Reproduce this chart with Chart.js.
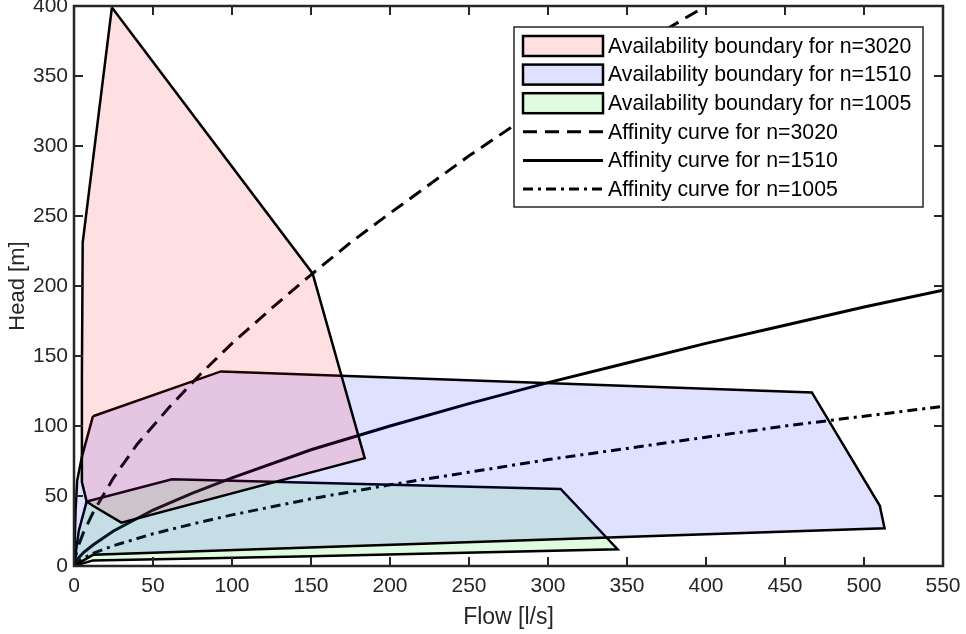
<!DOCTYPE html>
<html>
<head>
<meta charset="utf-8">
<title>Availability boundaries and affinity curves</title>
<script src="https://cdn.jsdelivr.net/npm/chart.js@4.4.1/dist/chart.umd.min.js"></script>
<style>
  html, body { margin: 0; padding: 0; background: #fff; }
  canvas { display: block; }
</style>
</head>
<body>
<canvas id="pumpChart" width="966" height="634"></canvas>
<script>
// Axis ticks
var flowTicks = [0, 50, 100, 150, 200, 250, 300, 350, 400, 450, 500, 550];
var headTicks = [0, 50, 100, 150, 200, 250, 300, 350, 400];

// Availability boundaries (closed polygons, flow [l/s] / head [m])
var boundary3020Q = [24, 151, 184, 30, 12, 8, 5, 5, 5.5, 24];
var boundary3020H = [399, 209, 77, 31, 43, 46, 60, 135, 231, 399];

var boundary1510Q = [12, 93, 467, 510, 513, 12, 0, 1, 2, 5, 12];
var boundary1510H = [107, 139, 124, 43, 27, 8, 0, 40, 61, 78, 107];

var boundary1005Q = [0, 3, 8, 62, 308, 344, 150, 12, 0];
var boundary1005H = [0, 25, 46, 62, 55, 12, 7, 4, 0];

// Affinity curves
var affinity3020Q = [0, 1, 3, 6, 12, 25, 40, 60, 80, 100, 125, 150, 175, 200, 250, 300, 350, 400];
var affinity3020H = [0, 7, 15, 24, 38, 63, 87, 113, 137, 159, 184, 208, 231, 252, 293, 331, 367, 400];

var affinityQ = [0, 1, 3, 6, 12, 25, 50, 75, 100, 150, 200, 250, 300, 350, 400, 450, 500, 550];
var affinity1510H = [0, 3, 6, 9.6, 15, 25, 40, 52, 63, 83, 100, 116, 131, 145, 159, 172, 185, 197];
var affinity1005H = [0, 1.7, 3.5, 5.6, 9, 14.5, 23, 30, 36.5, 48, 58, 67, 76, 84, 92, 100, 107, 114];

var seriesLabels = [
  'Availability boundary for n=3020',
  'Availability boundary for n=1510',
  'Availability boundary for n=1005',
  'Affinity curve for n=3020',
  'Affinity curve for n=1510',
  'Affinity curve for n=1005'
];

var TEXT = '#262626';
var FONT = '"Liberation Sans", Arial, Helvetica, sans-serif';

function toPoints(xs, ys) {
  return xs.map(function (x, i) { return { x: x, y: ys[i] }; });
}

function boundary(label, xs, ys, color) {
  return {
    label: label,
    data: toPoints(xs, ys),
    showLine: true,
    fill: 'shape',
    backgroundColor: color,
    borderColor: '#000',
    borderWidth: 2.5,
    pointRadius: 0,
    tension: 0
  };
}

function curve(label, xs, ys, dash) {
  return {
    label: label,
    data: toPoints(xs, ys),
    showLine: true,
    fill: false,
    borderColor: '#000',
    borderWidth: 3,
    borderDash: dash,
    pointRadius: 0,
    tension: 0
  };
}

var datasets = [
  boundary(seriesLabels[0], boundary3020Q, boundary3020H, 'rgba(255,0,20,0.12)'),
  boundary(seriesLabels[1], boundary1510Q, boundary1510H, 'rgba(0,0,255,0.12)'),
  boundary(seriesLabels[2], boundary1005Q, boundary1005H, 'rgba(0,230,0,0.12)'),
  curve(seriesLabels[3], affinity3020Q, affinity3020H, [14, 8]),
  curve(seriesLabels[4], affinityQ, affinity1510H, []),
  curve(seriesLabels[5], affinityQ, affinity1005H, [10, 5, 3, 5])
];

// MATLAB-style box with inward ticks on all four sides
var boxAxes = {
  id: 'boxAxes',
  afterDatasetsDraw: function (chart) {
    var ctx = chart.ctx, a = chart.chartArea;
    var xs = chart.scales.x, ys = chart.scales.y;
    var len = 9;
    ctx.save();
    ctx.strokeStyle = TEXT;
    ctx.lineWidth = 2;
    ctx.beginPath();
    flowTicks.forEach(function (v) {
      var px = Math.round(xs.getPixelForValue(v));
      ctx.moveTo(px, a.bottom); ctx.lineTo(px, a.bottom - len);
      ctx.moveTo(px, a.top); ctx.lineTo(px, a.top + len);
    });
    headTicks.forEach(function (v) {
      var py = Math.round(ys.getPixelForValue(v));
      ctx.moveTo(a.left, py); ctx.lineTo(a.left + len, py);
      ctx.moveTo(a.right, py); ctx.lineTo(a.right - len, py);
    });
    ctx.stroke();
    ctx.lineWidth = 2.5;
    ctx.strokeRect(a.left, a.top, a.right - a.left, a.bottom - a.top);
    ctx.restore();
  }
};

// Legend box drawn inside the upper right of the plot
var insideLegend = {
  id: 'insideLegend',
  afterDraw: function (chart) {
    var ctx = chart.ctx;
    var box = { x: 514, y: 27, w: 409, h: 180 };
    var rowH = 28.6, first = 46;
    ctx.save();
    ctx.fillStyle = '#fff';
    ctx.fillRect(box.x, box.y, box.w, box.h);
    ctx.strokeStyle = TEXT;
    ctx.lineWidth = 1.5;
    ctx.strokeRect(box.x, box.y, box.w, box.h);
    ctx.font = '21.3px ' + FONT;
    ctx.textBaseline = 'middle';
    chart.data.datasets.forEach(function (ds, i) {
      var cy = first + i * rowH;
      if (ds.fill) {
        ctx.fillStyle = ds.backgroundColor;
        ctx.fillRect(523, cy - 10, 80, 20);
        ctx.strokeStyle = '#000';
        ctx.lineWidth = 2.5;
        ctx.setLineDash([]);
        ctx.strokeRect(523, cy - 10, 80, 20);
      } else {
        ctx.strokeStyle = '#000';
        ctx.lineWidth = ds.borderWidth;
        ctx.setLineDash(ds.borderDash);
        ctx.beginPath();
        ctx.moveTo(523, cy);
        ctx.lineTo(603, cy);
        ctx.stroke();
        ctx.setLineDash([]);
      }
      ctx.fillStyle = '#000';
      ctx.fillText(ds.label, 608, cy + 1);
    });
    ctx.restore();
  }
};

var chart = new Chart(document.getElementById('pumpChart'), {
  type: 'scatter',
  data: { datasets: datasets },
  options: {
    responsive: false,
    animation: false,
    devicePixelRatio: 1,
    layout: { padding: { top: 6, right: 23, left: 0, bottom: 0 } },
    plugins: {
      legend: { display: false },
      tooltip: { enabled: false }
    },
    scales: {
      x: {
        type: 'linear',
        min: 0,
        max: 550,
        afterBuildTicks: function (s) { s.ticks = flowTicks.map(function (v) { return { value: v }; }); },
        afterFit: function (s) { s.height = 68; s.paddingLeft = 0; s.paddingRight = 0; },
        grid: { display: false, drawTicks: false },
        border: { display: false },
        ticks: { color: TEXT, font: { family: FONT, size: 21 }, padding: 8, maxRotation: 0 },
        title: { display: true, text: 'Flow [l/s]', color: TEXT, font: { family: FONT, size: 23 }, padding: { top: 0, bottom: 3 } }
      },
      y: {
        type: 'linear',
        min: 0,
        max: 400,
        afterBuildTicks: function (s) { s.ticks = headTicks.map(function (v) { return { value: v }; }); },
        afterFit: function (s) { s.width = 74; s.paddingTop = 0; s.paddingBottom = 0; },
        grid: { display: false, drawTicks: false },
        border: { display: false },
        ticks: { color: TEXT, font: { family: FONT, size: 21 }, padding: 6 },
        title: { display: true, text: 'Head [m]', color: TEXT, font: { family: FONT, size: 22 }, padding: { top: 5, bottom: 0 } }
      }
    }
  },
  plugins: [boxAxes, insideLegend]
});
</script>
</body>
</html>
